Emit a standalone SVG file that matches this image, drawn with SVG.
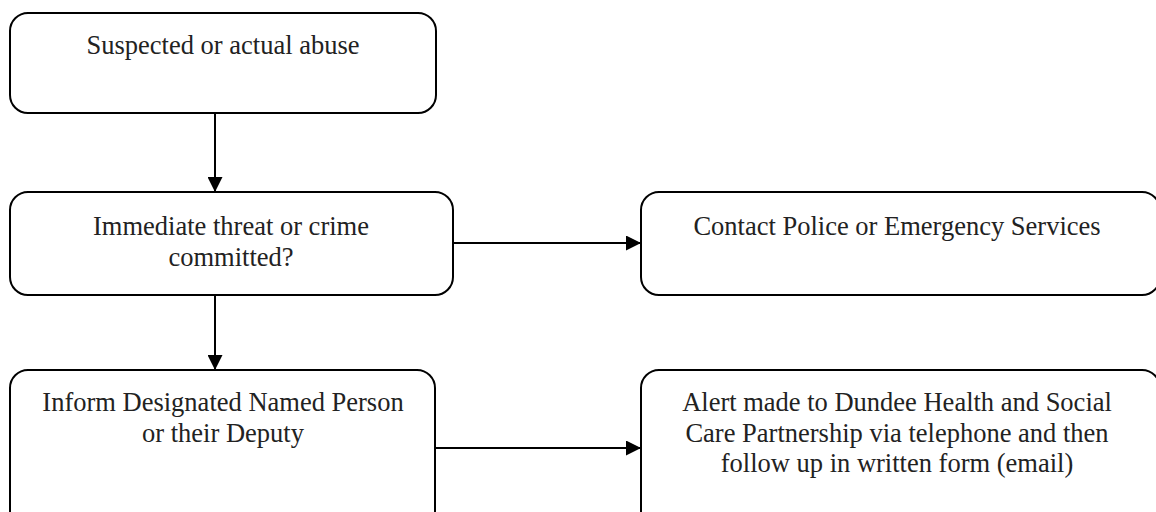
<svg xmlns="http://www.w3.org/2000/svg" width="1156" height="512" viewBox="0 0 1156 512">
<style>
.box{fill:#fff;stroke:#000;stroke-width:2}
.t{font-family:"Liberation Serif","Times New Roman",serif;font-size:26.5px;fill:#222;text-anchor:middle}
.c{stroke:#000;stroke-width:2;fill:none}
</style>
<defs>
<marker id="ah" viewBox="0 0 10 10" refX="10" refY="5" markerWidth="15" markerHeight="15" markerUnits="userSpaceOnUse" orient="auto">
<path d="M0,0 L10,5 L0,10 Z" fill="#000"/>
</marker>
</defs>
<rect width="1156" height="512" fill="#fff"/>
<g id="n1"><rect class="box" x="10" y="13" width="426" height="100" rx="18"/>
<text class="t" x="223" y="54">Suspected or actual abuse</text></g>
<g id="n2"><rect class="box" x="10" y="192" width="443" height="103" rx="18"/>
<text class="t" x="231" y="235">Immediate threat or crime</text>
<text class="t" x="231" y="265.5">committed?</text></g>
<g id="n3"><rect class="box" x="641" y="192" width="519" height="103" rx="18"/>
<text class="t" x="897" y="235">Contact Police or Emergency Services</text></g>
<g id="n4"><rect class="box" x="10" y="370" width="425" height="170" rx="18"/>
<text class="t" x="223" y="411">Inform Designated Named Person</text>
<text class="t" x="223" y="441.5">or their Deputy</text></g>
<g id="n5"><rect class="box" x="641" y="370" width="519" height="170" rx="18"/>
<text class="t" x="897" y="411">Alert made to Dundee Health and Social</text>
<text class="t" x="897" y="441.5">Care Partnership via telephone and then</text>
<text class="t" x="897" y="472">follow up in written form (email)</text></g>
<g id="connectors">
<line class="c" x1="215" y1="113" x2="215" y2="192" marker-end="url(#ah)"/>
<line class="c" x1="215" y1="295" x2="215" y2="370" marker-end="url(#ah)"/>
<line class="c" x1="453" y1="243" x2="641" y2="243" marker-end="url(#ah)"/>
<line class="c" x1="435" y1="448" x2="641" y2="448" marker-end="url(#ah)"/>
</g>
</svg>
